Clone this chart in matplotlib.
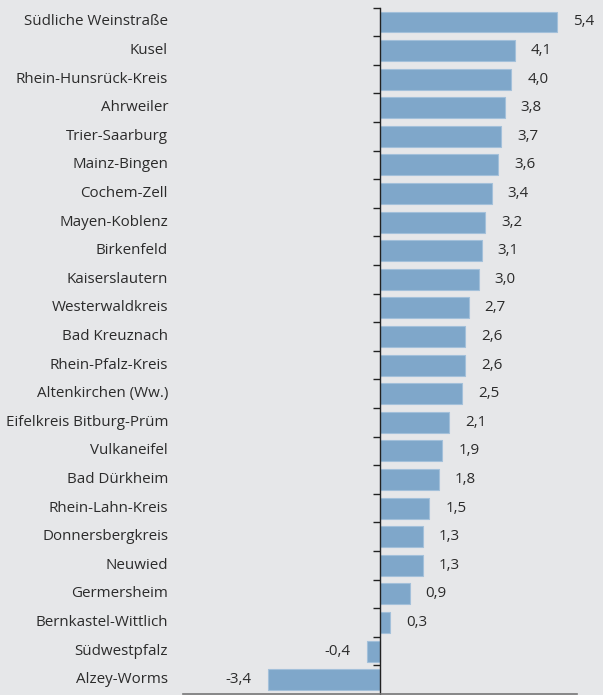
import numpy as np
import matplotlib.pyplot as plt
import matplotlib.transforms as mtransforms

plt.rcParams['font.family'] = ['Open Sans', 'DejaVu Sans']

regions = ['Südliche Weinstraße', 'Kusel', 'Rhein-Hunsrück-Kreis', 'Ahrweiler',
           'Trier-Saarburg', 'Mainz-Bingen', 'Cochem-Zell', 'Mayen-Koblenz',
           'Birkenfeld', 'Kaiserslautern', 'Westerwaldkreis', 'Bad Kreuznach',
           'Rhein-Pfalz-Kreis', 'Altenkirchen (Ww.)', 'Eifelkreis Bitburg-Prüm',
           'Vulkaneifel', 'Bad Dürkheim', 'Rhein-Lahn-Kreis', 'Donnersbergkreis',
           'Neuwied', 'Germersheim', 'Bernkastel-Wittlich', 'Südwestpfalz',
           'Alzey-Worms']
values = [5.4, 4.1, 4.0, 3.8, 3.7, 3.6, 3.4, 3.2, 3.1, 3.0, 2.7, 2.6, 2.6,
          2.5, 2.1, 1.9, 1.8, 1.5, 1.3, 1.3, 0.9, 0.3, -0.4, -3.4]

bg = '#e6e7e9'
bar_col = '#7fa7ca'
txt_col = '#2b2b2b'
fs = 10.9

fig = plt.figure(figsize=(6.03, 6.95), dpi=100, facecolor=bg)
ax = fig.add_axes([0.3035, 0.0015, 0.6534, 0.9875], facecolor=bg)

y = np.arange(len(regions))
ax.barh(y, values, height=0.73, color=bar_col, edgecolor='#a3c0da', linewidth=0.8)

ax.set_xlim(-6, 6)
ax.set_ylim(len(regions) - 0.5, -0.5)

# zero line with small ticks between the bars
ax.spines['left'].set_position(('data', 0))
ax.spines['left'].set_color('#222222')
ax.spines['left'].set_linewidth(1.0)
ax.spines['top'].set_visible(False)
ax.spines['right'].set_visible(False)
ax.spines['bottom'].set_color('#777777')
ax.spines['bottom'].set_linewidth(1.2)
ax.set_xticks([])
ax.set_yticks(np.arange(-0.5, len(regions) - 0.5, 1))
ax.tick_params(axis='y', direction='out', length=5, width=1, color='#222222',
               labelleft=False)

# category labels to the left of the axes
trans = mtransforms.blended_transform_factory(ax.transAxes, ax.transData)
for yi, name in zip(y, regions):
    ax.annotate(name, (0, yi), xycoords=trans, xytext=(-15, 0),
                textcoords='offset pixels', ha='right', va='center',
                fontsize=fs, color=txt_col)

# value labels
for yi, v in zip(y, values):
    lab = f'{v:.1f}'.replace('.', ',')
    if v >= 0:
        ax.annotate(lab, (v, yi), xytext=(16, 0), textcoords='offset pixels',
                    ha='left', va='center', fontsize=fs, color=txt_col)
    else:
        ax.annotate(lab, (v, yi), xytext=(-17, 0), textcoords='offset pixels',
                    ha='right', va='center', fontsize=fs, color=txt_col)

fig.savefig('out.png', dpi=100, facecolor=bg)
